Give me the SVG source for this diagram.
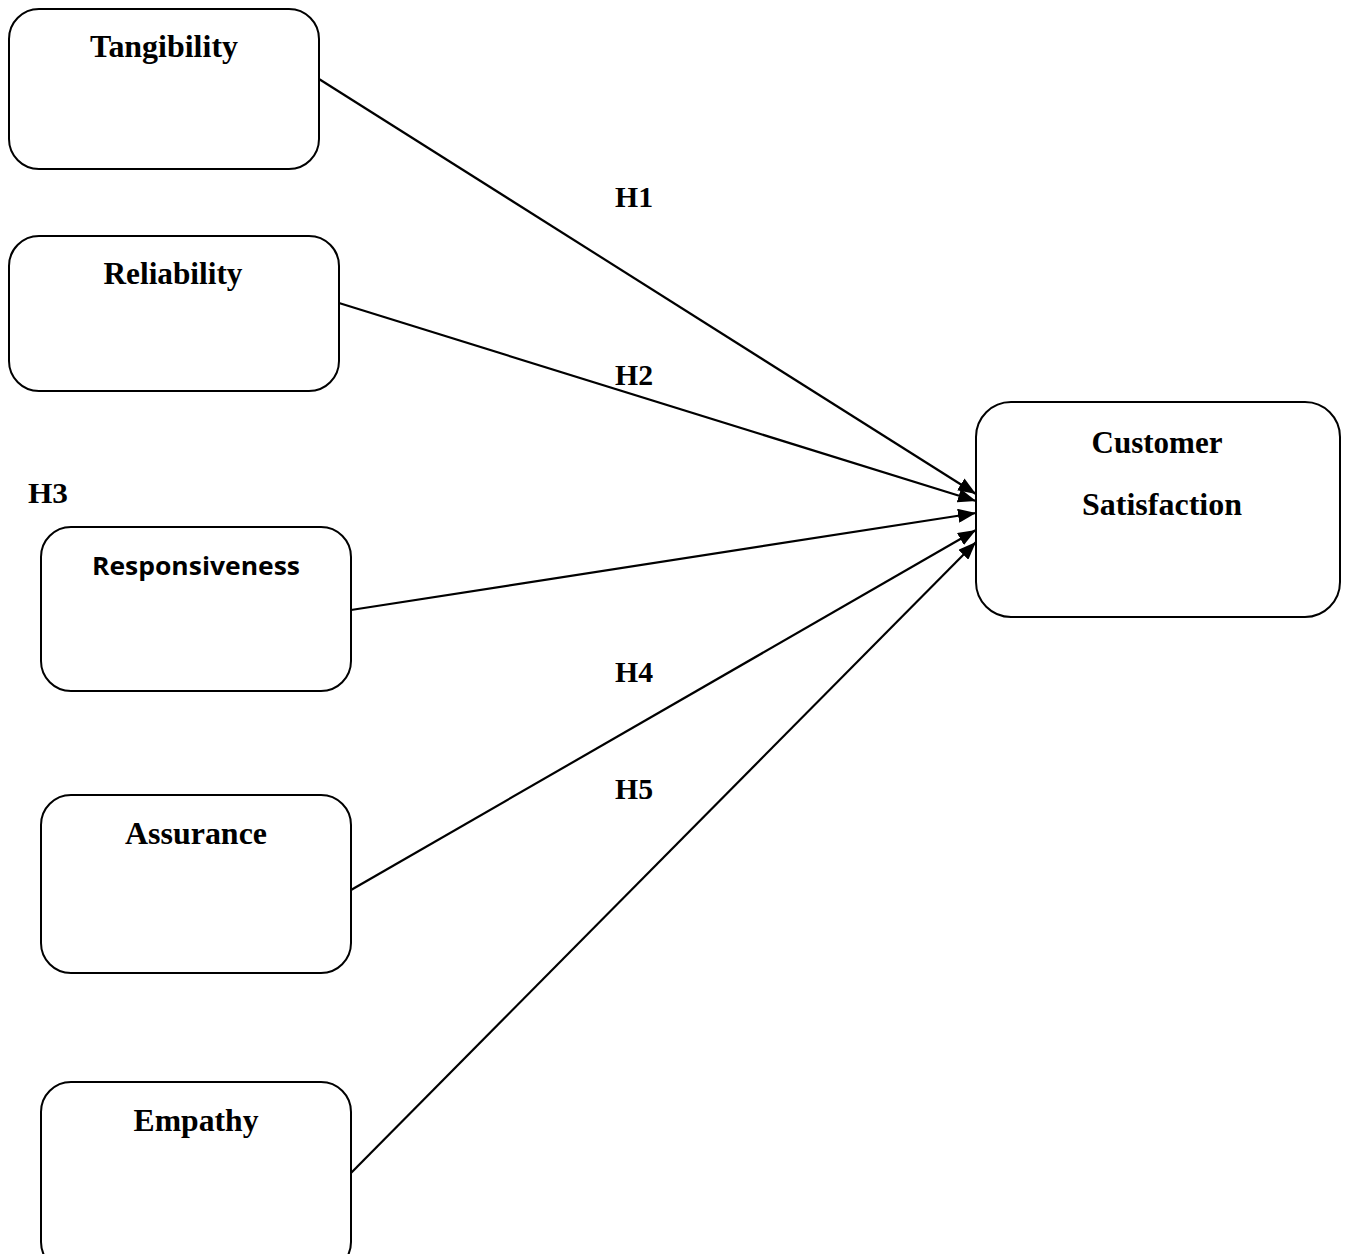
<svg xmlns="http://www.w3.org/2000/svg" width="1349" height="1254" viewBox="0 0 1349 1254">
<style>
.box{fill:#fff;stroke:#000;stroke-width:2}
.t{font-family:"Times New Roman","Liberation Serif",Times,serif;font-weight:700;font-size:31px;fill:#000;text-anchor:middle}
.c{font-family:"Open Sans","Noto Sans",sans-serif;font-weight:bold;font-size:25px;fill:#000;text-anchor:middle}
.h{font-family:"Times New Roman","Liberation Serif",Times,serif;font-weight:700;font-size:30px;fill:#000;text-anchor:middle}
.ln{stroke:#000;stroke-width:2.2;fill:none;marker-end:url(#ah)}
</style>
<defs>
<marker id="ah" markerUnits="userSpaceOnUse" markerWidth="18" markerHeight="14" viewBox="0 0 18 14" refX="18" refY="7" orient="auto">
<path d="M0,0 L18,7 L0,14 Z" fill="#000"/>
</marker>
</defs>
<rect width="1349" height="1254" fill="#fff"/>
<g id="connectors">
<line class="ln" x1="319" y1="79" x2="976" y2="494"/>
<line class="ln" x1="339" y1="303" x2="976" y2="501"/>
<line class="ln" x1="351" y1="610" x2="976" y2="513"/>
<line class="ln" x1="351" y1="890" x2="976" y2="530"/>
<line class="ln" x1="351" y1="1173" x2="976" y2="542"/>
</g>
<g id="tangibility">
<rect class="box" x="9" y="9" width="310" height="160" rx="30"/>
<text class="t" x="164" y="57" textLength="148" lengthAdjust="spacingAndGlyphs">Tangibility</text>
</g>
<g id="reliability">
<rect class="box" x="9" y="236" width="330" height="155" rx="30"/>
<text class="t" x="173" y="284" textLength="139" lengthAdjust="spacingAndGlyphs">Reliability</text>
</g>
<g id="responsiveness">
<rect class="box" x="41" y="527" width="310" height="164" rx="30"/>
<text class="c" x="196" y="575" textLength="208" lengthAdjust="spacingAndGlyphs">Responsiveness</text>
</g>
<g id="assurance">
<rect class="box" x="41" y="795" width="310" height="178" rx="30"/>
<text class="t" x="196" y="844" textLength="142" lengthAdjust="spacingAndGlyphs">Assurance</text>
</g>
<g id="empathy">
<rect class="box" x="41" y="1082" width="310" height="190" rx="30"/>
<text class="t" x="196" y="1131" textLength="125" lengthAdjust="spacingAndGlyphs">Empathy</text>
</g>
<g id="customer-satisfaction">
<rect class="box" x="976" y="402" width="364" height="215" rx="35"/>
<text class="t" x="1157" y="453" textLength="131" lengthAdjust="spacingAndGlyphs">Customer</text>
<text class="t" x="1162" y="515" textLength="160" lengthAdjust="spacingAndGlyphs">Satisfaction</text>
</g>
<g id="labels">
<text class="h" x="634" y="207" textLength="38" lengthAdjust="spacingAndGlyphs">H1</text>
<text class="h" x="634" y="385" textLength="38" lengthAdjust="spacingAndGlyphs">H2</text>
<text class="h" x="48" y="503" textLength="40" lengthAdjust="spacingAndGlyphs">H3</text>
<text class="h" x="634" y="682" textLength="38" lengthAdjust="spacingAndGlyphs">H4</text>
<text class="h" x="634" y="799" textLength="38" lengthAdjust="spacingAndGlyphs">H5</text>
</g>
</svg>
